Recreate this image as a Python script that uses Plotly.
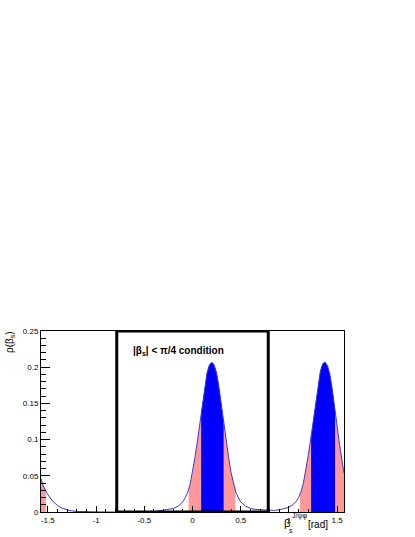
import numpy as np
import plotly.graph_objects as go

# posterior density of beta_s
beta = [-1.5708, -1.55, -1.525, -1.5, -1.45, -1.4, -1.35, -1.3, -1.25, -1.2,
        -1.1, -1.0, -0.9, -0.8, -0.7, -0.6, -0.5, -0.4, -0.3, -0.25, -0.2, -0.15,
        -0.1, -0.075, -0.05, -0.025, 0.0, 0.025, 0.05, 0.075, 0.1, 0.125, 0.15,
        0.175, 0.2, 0.225, 0.25, 0.275, 0.3, 0.325, 0.35, 0.375, 0.4, 0.425,
        0.45, 0.475, 0.5, 0.55, 0.6, 0.65, 0.7, 0.75, 0.8, 0.85, 0.9, 0.95,
        1.0, 1.05, 1.075, 1.1, 1.125, 1.15, 1.175, 1.2, 1.225, 1.25, 1.275,
        1.3, 1.325, 1.35, 1.375, 1.4, 1.425, 1.45, 1.475, 1.5, 1.525, 1.55, 1.5708]
rho = [0.046, 0.037, 0.030, 0.024, 0.015, 0.009, 0.005, 0.003, 0.0015, 0.0008,
       0.0003, 0.0001, 0.0, 0.0, 0.0, 0.0001, 0.0003, 0.0008, 0.0025, 0.0035, 0.005, 0.008,
       0.014, 0.020, 0.027, 0.038, 0.054, 0.075, 0.097, 0.121, 0.146, 0.172, 0.192,
       0.203, 0.207, 0.203, 0.192, 0.172, 0.146, 0.121, 0.097, 0.075, 0.054, 0.038,
       0.027, 0.020, 0.014, 0.008, 0.005, 0.0035, 0.003, 0.0022, 0.0018, 0.0022, 0.003, 0.0045,
       0.0065, 0.011, 0.0145, 0.020, 0.028, 0.040, 0.057, 0.078, 0.100, 0.125, 0.150,
       0.174, 0.194, 0.205, 0.207, 0.202, 0.190, 0.169, 0.142, 0.117, 0.093, 0.071, 0.054]

# credible intervals
ci95 = [(-1.5708, -1.52), (-0.04, 0.445), (1.115, 1.5708)]
ci68 = [(0.09, 0.323), (1.23, 1.478)]

# |beta_s| < pi/4 window
cond_lo, cond_hi = -np.pi / 4, np.pi / 4

xtick_vals = [-1.5, -1.0, -0.5, 0.0, 0.5, 1.0, 1.5]
xtick_text = ["-1.5", "-1", "-0.5", "0", "0.5", "1", "1.5"]
ytick_vals = [0, 0.05, 0.1, 0.15, 0.2, 0.25]
ytick_text = ["0", "0.05", "0.1", "0.15", "0.2", "0.25"]

FONT = "Liberation Sans, Arial, Helvetica, sans-serif"
W, H = 415, 537
L, R, T, B = 41, 71, 331, 25


def px(xp, yp):
    # pixel -> paper coordinates
    return (xp - L) / (W - L - R), (H - B - yp) / (H - T - B)


def band(a, b):
    xs = [a] + [x for x in beta if a < x < b] + [b]
    ys = list(np.interp(xs, beta, rho))
    return xs, ys


fig = go.Figure()

for a, b in ci95:
    xs, ys = band(a, b)
    fig.add_trace(go.Scatter(x=xs, y=ys, fill="tozeroy", mode="lines",
                             line=dict(width=0), fillcolor="#ff9999",
                             hoverinfo="skip", showlegend=False))
for a, b in ci68:
    xs, ys = band(a, b)
    fig.add_trace(go.Scatter(x=xs, y=ys, fill="tozeroy", mode="lines",
                             line=dict(width=0), fillcolor="#0000ff",
                             hoverinfo="skip", showlegend=False))

fig.add_trace(go.Scatter(x=beta, y=rho, mode="lines",
                         line=dict(color="#3a3acc", width=1), showlegend=False))

fig.add_shape(type="rect", x0=cond_lo, x1=cond_hi, y0=0, y1=0.25,
              xref="x", yref="y", line=dict(color="black", width=3), layer="above")

ann = []
x, y = px(131, 351)
ann.append(dict(x=x, y=y, text="<b>|β<sub>s</sub>| &lt; π/4 condition</b>",
                xanchor="left", yanchor="middle", font=dict(size=10)))
x, y = px(10, 342)
ann.append(dict(x=x, y=y, text="ρ(β<sub>s</sub>)", textangle=-90,
                xanchor="center", yanchor="middle", font=dict(size=10)))
x, y = px(287, 523)
ann.append(dict(x=x, y=y, text="β", xanchor="center", yanchor="middle",
                font=dict(size=11)))
x, y = px(291, 530)
ann.append(dict(x=x, y=y, text="s", xanchor="center", yanchor="middle",
                font=dict(size=7)))
x, y = px(290, 516)
ann.append(dict(x=x, y=y, text="J/ψφ", xanchor="left", yanchor="middle",
                font=dict(size=7)))
x, y = px(318, 524)
ann.append(dict(x=x, y=y, text="[rad]", xanchor="center", yanchor="middle",
                font=dict(size=10)))
for a in ann:
    a.update(xref="paper", yref="paper", showarrow=False)

fig.update_layout(
    width=W, height=H,
    margin=dict(l=L, r=R, t=T, b=B),
    paper_bgcolor="white", plot_bgcolor="white",
    font=dict(family=FONT, color="black", size=8),
    annotations=ann,
    xaxis=dict(range=[-np.pi / 2, np.pi / 2], tickmode="array",
               tickvals=xtick_vals, ticktext=xtick_text,
               ticks="inside", ticklen=6, tickwidth=1, tickcolor="black",
               minor=dict(tickmode="linear", tick0=0, dtick=0.1, ticks="inside",
                          ticklen=3, tickcolor="black"),
               showgrid=False, zeroline=False, showline=True, linecolor="black",
               linewidth=1, mirror=True, tickfont=dict(size=8), automargin=False),
    yaxis=dict(range=[0, 0.25], tickmode="array",
               tickvals=ytick_vals, ticktext=ytick_text,
               ticks="inside", ticklen=9, tickwidth=1, tickcolor="black",
               minor=dict(tickmode="linear", tick0=0, dtick=0.01, ticks="inside",
                          ticklen=4.5, tickcolor="black"),
               showgrid=False, zeroline=False, showline=True, linecolor="black",
               linewidth=1, mirror=True, tickfont=dict(size=8), automargin=False),
)

# drop the browser's default body margin so the figure sits at the page corner
fig.write_html("out.html", config={"displayModeBar": False},
               post_script="document.body.style.margin='0';"
                           "document.body.style.overflow='hidden';")
